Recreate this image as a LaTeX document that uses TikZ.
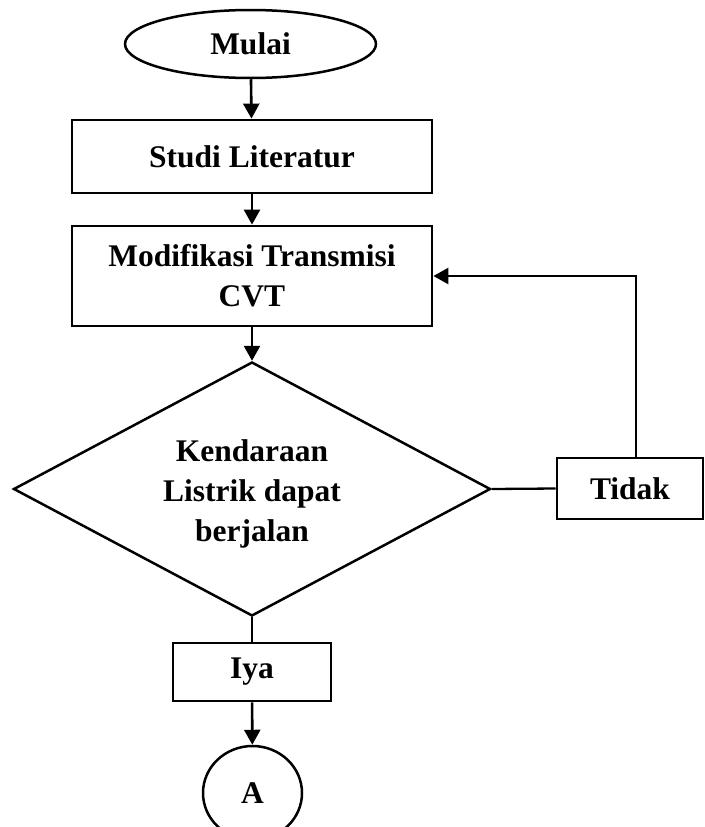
\documentclass[tikz,border=0pt]{standalone}
\usepackage{fontspec}
\setmainfont{Liberation Serif}
\usetikzlibrary{shapes.geometric,arrows.meta}

\tikzset{
  lbl/.style={font=\bfseries\fontsize{31.5}{40}\selectfont, align=center, inner sep=0pt},
  procbox/.style={lbl, draw, rectangle, line width=2.8pt},
  term/.style={lbl, draw, ellipse, line width=2.5pt},
  decide/.style={draw, diamond, aspect=1.878, inner sep=0pt, line width=2.5pt},
  flow/.style={line width=2.6pt, -{Triangle[length=15pt,width=16pt]}},
  link/.style={line width=2.3pt}
}

\begin{document}
\begin{tikzpicture}[x=1pt, y=-1pt]
  \path[use as bounding box, clip] (0,0) rectangle (704,827);

  \node[term, minimum width=251pt, minimum height=68pt] (mulai) at (250.5,44) {Mulai};
  \node[procbox, minimum width=360pt, minimum height=73pt] (studi) at (252,156.5) {Studi Literatur};
  \node[procbox, minimum width=360pt, minimum height=100pt] (modif) at (252,276)
    {Modifikasi Transmisi\\CVT};
  % decision diamond, with its question set a little below the centre
  \node[decide, minimum width=477pt, minimum height=254pt] (cek) at (252,489) {};
  \node[lbl] (cekteks) at (252,494) {Kendaraan\\Listrik dapat\\berjalan};
  \node[procbox, minimum width=146pt, minimum height=61pt] (tidak) at (630,488.5) {Tidak};
  \node[procbox, minimum width=158pt, minimum height=58pt] (iya) at (252,672) {Iya};
  \node[term, minimum width=99pt, minimum height=94pt] (konA) at (252.5,793) {A};

  \coordinate (naik) at ([xshift=6pt]tidak.north);

  \draw[flow] (mulai) -- (studi);
  \draw[flow] (studi) -- (modif);
  \draw[flow] (modif) -- (cek);
  \draw[link] (cek.east) -- (tidak.west);
  \draw[flow] (naik) |- (modif.east);
  \draw[link] (cek.south) -- (iya.north);
  \draw[flow] (iya) -- (konA);
\end{tikzpicture}
\end{document}
